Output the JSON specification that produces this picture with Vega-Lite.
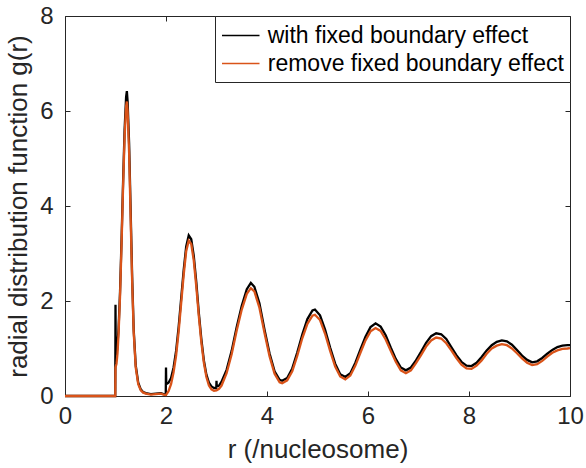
{
  "$schema": "https://vega.github.io/schema/vega-lite/v6.json",
  "width": 505,
  "height": 380,
  "autosize": {"type": "none"},
  "padding": {"left": 65, "top": 16, "right": 16, "bottom": 72},
  "background": "white",
  "config": {
    "font": "Liberation Sans",
    "view": {"stroke": null},
    "axis": {
      "grid": false,
      "domainColor": "#262626",
      "domainWidth": 1,
      "tickColor": "#262626",
      "tickWidth": 1,
      "tickSize": -5,
      "labelColor": "#262626",
      "labelFontSize": 24,
      "labelFont": "Liberation Sans",
      "titleFont": "Liberation Sans",
      "titleFontSize": 26,
      "titleFontWeight": "normal",
      "titleColor": "#262626"
    },
    "legend": {
      "orient": "top-right",
      "offset": 0,
      "title": null,
      "symbolType": "M-1.5,0H1.5",
      "symbolSize": 625,
      "symbolOffset": 6.25,
      "symbolStrokeWidth": 1.5,
      "labelFontSize": 23,
      "labelFont": "Liberation Sans",
      "labelColor": "#000000",
      "labelOffset": 13.5,
      "labelLimit": 400,
      "rowPadding": 2,
      "padding": 6,
      "strokeColor": "#262626",
      "fillColor": "white"
    }
  },
  "datasets": {
    "blk": [
      {"r":0,"g":0},{"r":0.995,"g":0},{"r":1.0,"g":1.92},{"r":1.005,"g":0.86},{"r":1.03,"g":0.95},{"r":1.06,"g":1.4},{"r":1.09,"g":2.2},{"r":1.12,"g":3.3},{"r":1.15,"g":4.5},{"r":1.18,"g":5.6},{"r":1.21,"g":6.3},{"r":1.225,"g":6.42},{"r":1.24,"g":6.2},{"r":1.27,"g":5.3},{"r":1.30,"g":3.9},{"r":1.33,"g":2.5},{"r":1.36,"g":1.4},{"r":1.40,"g":0.65},{"r":1.45,"g":0.28},{"r":1.50,"g":0.14},{"r":1.55,"g":0.08},{"r":1.6,"g":0.06},{"r":1.7,"g":0.04},{"r":1.8,"g":0.05},{"r":1.9,"g":0.06},{"r":1.95,"g":0.04},{"r":1.995,"g":0.03},{"r":2.0,"g":0.6},{"r":2.005,"g":0.25},{"r":2.05,"g":0.28},{"r":2.1,"g":0.38},{"r":2.15,"g":0.6},{"r":2.2,"g":0.95},{"r":2.25,"g":1.45},{"r":2.3,"g":2.05},{"r":2.35,"g":2.65},{"r":2.4,"g":3.15},{"r":2.45,"g":3.38},{"r":2.5,"g":3.3},{"r":2.55,"g":2.95},{"r":2.6,"g":2.4},{"r":2.65,"g":1.75},{"r":2.7,"g":1.2},{"r":2.75,"g":0.75},{"r":2.8,"g":0.45},{"r":2.85,"g":0.28},{"r":2.9,"g":0.2},{"r":2.95,"g":0.17},{"r":2.995,"g":0.16},{"r":3.0,"g":0.32},{"r":3.005,"g":0.2},{"r":3.05,"g":0.22},{"r":3.1,"g":0.3},{"r":3.2,"g":0.55},{"r":3.3,"g":0.95},{"r":3.4,"g":1.45},{"r":3.5,"g":1.9},{"r":3.6,"g":2.25},{"r":3.68,"g":2.38},{"r":3.75,"g":2.3},{"r":3.85,"g":1.95},{"r":3.95,"g":1.4},{"r":4.05,"g":0.9},{"r":4.15,"g":0.52},{"r":4.25,"g":0.34},{"r":4.3,"g":0.32},{"r":4.4,"g":0.38},{"r":4.5,"g":0.58},{"r":4.6,"g":0.92},{"r":4.7,"g":1.3},{"r":4.8,"g":1.62},{"r":4.9,"g":1.8},{"r":4.95,"g":1.82},{"r":5.05,"g":1.7},{"r":5.15,"g":1.4},{"r":5.25,"g":1.02},{"r":5.35,"g":0.68},{"r":5.45,"g":0.46},{"r":5.55,"g":0.4},{"r":5.65,"g":0.48},{"r":5.75,"g":0.7},{"r":5.85,"g":0.98},{"r":5.95,"g":1.25},{"r":6.05,"g":1.45},{"r":6.15,"g":1.53},{"r":6.25,"g":1.46},{"r":6.35,"g":1.28},{"r":6.45,"g":1.02},{"r":6.55,"g":0.78},{"r":6.65,"g":0.6},{"r":6.75,"g":0.54},{"r":6.85,"g":0.6},{"r":6.95,"g":0.75},{"r":7.05,"g":0.93},{"r":7.15,"g":1.12},{"r":7.25,"g":1.26},{"r":7.35,"g":1.32},{"r":7.45,"g":1.3},{"r":7.55,"g":1.2},{"r":7.65,"g":1.03},{"r":7.75,"g":0.86},{"r":7.85,"g":0.72},{"r":7.95,"g":0.64},{"r":8.05,"g":0.63},{"r":8.15,"g":0.7},{"r":8.25,"g":0.82},{"r":8.35,"g":0.96},{"r":8.45,"g":1.07},{"r":8.55,"g":1.14},{"r":8.65,"g":1.17},{"r":8.75,"g":1.15},{"r":8.85,"g":1.08},{"r":8.95,"g":0.97},{"r":9.05,"g":0.85},{"r":9.15,"g":0.76},{"r":9.25,"g":0.71},{"r":9.35,"g":0.73},{"r":9.45,"g":0.8},{"r":9.55,"g":0.89},{"r":9.65,"g":0.97},{"r":9.75,"g":1.03},{"r":9.85,"g":1.06},{"r":9.95,"g":1.07},{"r":10,"g":1.07}
    ],
    "org": [
      {"r":0,"g":0},{"r":0.995,"g":0},{"r":1.0,"g":0.6},{"r":1.02,"g":0.68},{"r":1.04,"g":0.9},{"r":1.06,"g":1.3},{"r":1.09,"g":2.1},{"r":1.12,"g":3.2},{"r":1.15,"g":4.4},{"r":1.18,"g":5.45},{"r":1.21,"g":6.1},{"r":1.225,"g":6.2},{"r":1.24,"g":6.0},{"r":1.27,"g":5.1},{"r":1.30,"g":3.75},{"r":1.33,"g":2.4},{"r":1.36,"g":1.35},{"r":1.40,"g":0.6},{"r":1.45,"g":0.25},{"r":1.5,"g":0.12},{"r":1.55,"g":0.07},{"r":1.6,"g":0.05},{"r":1.7,"g":0.03},{"r":1.8,"g":0.04},{"r":1.9,"g":0.05},{"r":1.95,"g":0.03},{"r":2.0,"g":0.02},{"r":2.05,"g":0.1},{"r":2.1,"g":0.25},{"r":2.15,"g":0.5},{"r":2.2,"g":0.85},{"r":2.25,"g":1.35},{"r":2.3,"g":1.95},{"r":2.35,"g":2.55},{"r":2.4,"g":3.05},{"r":2.45,"g":3.27},{"r":2.5,"g":3.2},{"r":2.55,"g":2.85},{"r":2.6,"g":2.3},{"r":2.65,"g":1.68},{"r":2.7,"g":1.13},{"r":2.75,"g":0.7},{"r":2.8,"g":0.4},{"r":2.85,"g":0.22},{"r":2.9,"g":0.14},{"r":2.95,"g":0.11},{"r":3.0,"g":0.12},{"r":3.05,"g":0.15},{"r":3.1,"g":0.22},{"r":3.2,"g":0.48},{"r":3.3,"g":0.88},{"r":3.4,"g":1.38},{"r":3.5,"g":1.82},{"r":3.6,"g":2.15},{"r":3.68,"g":2.27},{"r":3.75,"g":2.2},{"r":3.85,"g":1.86},{"r":3.95,"g":1.33},{"r":4.05,"g":0.84},{"r":4.15,"g":0.47},{"r":4.25,"g":0.29},{"r":4.3,"g":0.27},{"r":4.4,"g":0.33},{"r":4.5,"g":0.52},{"r":4.6,"g":0.85},{"r":4.7,"g":1.22},{"r":4.8,"g":1.52},{"r":4.9,"g":1.69},{"r":4.95,"g":1.71},{"r":5.05,"g":1.6},{"r":5.15,"g":1.31},{"r":5.25,"g":0.95},{"r":5.35,"g":0.62},{"r":5.45,"g":0.41},{"r":5.55,"g":0.35},{"r":5.65,"g":0.43},{"r":5.75,"g":0.64},{"r":5.85,"g":0.91},{"r":5.95,"g":1.17},{"r":6.05,"g":1.36},{"r":6.15,"g":1.43},{"r":6.25,"g":1.37},{"r":6.35,"g":1.19},{"r":6.45,"g":0.95},{"r":6.55,"g":0.72},{"r":6.65,"g":0.54},{"r":6.75,"g":0.48},{"r":6.85,"g":0.54},{"r":6.95,"g":0.69},{"r":7.05,"g":0.86},{"r":7.15,"g":1.04},{"r":7.25,"g":1.17},{"r":7.35,"g":1.23},{"r":7.45,"g":1.21},{"r":7.55,"g":1.11},{"r":7.65,"g":0.96},{"r":7.75,"g":0.8},{"r":7.85,"g":0.66},{"r":7.95,"g":0.58},{"r":8.05,"g":0.57},{"r":8.15,"g":0.64},{"r":8.25,"g":0.75},{"r":8.35,"g":0.89},{"r":8.45,"g":1.0},{"r":8.55,"g":1.06},{"r":8.65,"g":1.09},{"r":8.75,"g":1.07},{"r":8.85,"g":1.0},{"r":8.95,"g":0.9},{"r":9.05,"g":0.79},{"r":9.15,"g":0.7},{"r":9.25,"g":0.65},{"r":9.35,"g":0.67},{"r":9.45,"g":0.74},{"r":9.55,"g":0.83},{"r":9.65,"g":0.91},{"r":9.75,"g":0.96},{"r":9.85,"g":0.99},{"r":9.95,"g":1.0},{"r":10,"g":1.01}
    ]
  },
  "resolve": {"scale": {"x": "shared", "y": "shared", "color": "shared"}, "axis": {"x": "independent", "y": "independent"}},
  "layer": [
    {
      "data": {"name": "blk"},
      "mark": {"type": "line", "strokeWidth": 2.3, "interpolate": "linear"},
      "encoding": {
        "x": {"field": "r", "type": "quantitative", "scale": {"domain": [0, 10], "nice": false, "zero": false},
              "axis": {"orient": "bottom", "values": [0, 2, 4, 6, 8, 10], "title": "r (/nucleosome)", "labelPadding": 13, "titlePadding": 8, "labelFlush": false}},
        "y": {"field": "g", "type": "quantitative", "scale": {"domain": [0, 8], "nice": false, "zero": false},
              "axis": {"orient": "left", "values": [0, 2, 4, 6, 8], "title": "radial distribution function g(r)", "labelPadding": 17, "titlePadding": 8, "labelFlush": false}},
        "color": {"datum": "with fixed boundary effect", "type": "nominal",
                  "scale": {"domain": ["with fixed boundary effect", "remove fixed boundary effect"], "range": ["#000000", "#D95319"]}}
      }
    },
    {
      "data": {"name": "org"},
      "mark": {"type": "line", "strokeWidth": 2.3, "interpolate": "linear"},
      "encoding": {
        "x": {"field": "r", "type": "quantitative",
              "axis": {"orient": "top", "values": [0, 2, 4, 6, 8, 10], "labels": false, "title": null}},
        "y": {"field": "g", "type": "quantitative",
              "axis": {"orient": "right", "values": [0, 2, 4, 6, 8], "labels": false, "title": null}},
        "color": {"datum": "remove fixed boundary effect", "type": "nominal"}
      }
    }
  ]
}
